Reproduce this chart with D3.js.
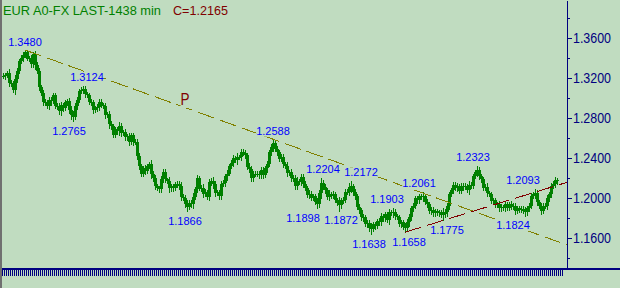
<!DOCTYPE html>
<html><head><meta charset="utf-8">
<script src="https://cdn.jsdelivr.net/npm/d3@7"></script>
<style>html,body{margin:0;padding:0;background:#C0DCC0;} svg{display:block;}</style>
</head><body><svg id="c" width="620" height="288"></svg>
<script>
// ---- data ----
const title = "EUR A0-FX LAST-1438 min";
const lastLabel = "C=1.2165";
const closes = [
1.3220,1.3225,1.3250,1.3155,1.3145,1.3080,1.3190,1.3270,1.3375,1.3400,
1.3430,1.3460,1.3395,1.3400,1.3335,1.3435,1.3330,1.3275,1.3105,1.3050,
1.2955,1.2960,1.2915,1.2975,1.2970,1.3025,1.2915,1.2920,1.2865,1.2925,
1.2900,1.2955,1.2970,1.2880,1.2830,1.2810,1.2920,1.2975,1.3070,1.3080,
1.3090,1.3040,1.3030,1.2960,1.2955,1.2875,1.2900,1.2905,1.2960,1.2930,
1.2915,1.2830,1.2835,1.2735,1.2720,1.2630,1.2685,1.2665,1.2720,1.2645,
1.2660,1.2605,1.2615,1.2560,1.2625,1.2560,1.2560,1.2415,1.2320,1.2240,
1.2295,1.2270,1.2315,1.2340,1.2240,1.2200,1.2115,1.2095,1.2090,1.2185,
1.2260,1.2185,1.2170,1.2095,1.2115,1.2100,1.2135,1.2145,1.2120,1.2010,
1.2000,1.1940,1.1910,1.1950,1.1935,1.2010,1.2090,1.2195,1.2100,1.2100,
1.2045,1.2060,1.2010,1.2155,1.2170,1.2140,1.2050,1.2055,1.2015,1.2140,
1.2150,1.2215,1.2245,1.2320,1.2350,1.2395,1.2380,1.2410,1.2405,1.2460,
1.2450,1.2425,1.2310,1.2290,1.2195,1.2240,1.2240,1.2245,1.2225,1.2280,
1.2230,1.2295,1.2335,1.2460,1.2510,1.2550,1.2490,1.2455,1.2390,1.2410,
1.2335,1.2320,1.2250,1.2255,1.2195,1.2200,1.2120,1.2170,1.2155,1.2210,
1.2140,1.2105,1.2030,1.2045,1.2005,1.2015,1.1960,1.1940,1.2050,1.2150,
1.2110,1.2075,1.2010,1.2040,1.2025,1.2040,1.1980,1.1950,1.1930,1.1975,
1.1985,1.2060,1.2065,1.2110,1.2120,1.2055,1.2020,1.1910,1.1875,1.1805,
1.1805,1.1740,1.1745,1.1700,1.1690,1.1735,1.1715,1.1770,1.1755,1.1820,
1.1795,1.1835,1.1780,1.1855,1.1850,1.1860,1.1815,1.1805,1.1740,1.1755,
1.1710,1.1700,1.1760,1.1805,1.1900,1.1925,1.2000,1.1975,1.2015,1.2010,
1.2020,1.1960,1.1935,1.1865,1.1885,1.1845,1.1865,1.1845,1.1855,1.1830,
1.1840,1.1860,1.1915,1.2040,1.2075,1.2130,1.2100,1.2125,1.2070,1.2125,
1.2110,1.2125,1.2075,1.2130,1.2125,1.2215,1.2260,1.2280,1.2220,1.2185,
1.2105,1.2110,1.2050,1.2035,1.1970,1.1975,1.1930,1.1940,1.1895,1.1910,
1.1895,1.1935,1.1900,1.1940,1.1915,1.1925,1.1870,1.1895,1.1885,1.1890,
1.1870,1.1860,1.1895,1.1925,1.2025,1.2040,1.2050,1.1960,1.1925,1.1870,
1.1925,1.1925,1.1995,1.2040,1.2125,1.2140,1.2180,1.2165
];
// wick length beyond the body, in pips
const wicks = [
25,30,20,35,30,25,40,30,20,25,
30,20,15,20,30,25,35,30,25,20,
30,25,20,30,35,25,20,30,25,35,
30,20,25,30,35,45,25,30,20,25,
34,30,20,25,30,25,20,35,30,25,
20,30,25,35,30,20,25,30,35,25,
20,30,25,35,20,30,25,30,35,25,
20,30,25,20,35,30,25,20,30,35,
25,30,20,35,25,30,20,25,30,35,
25,30,44,25,30,35,20,30,25,30,
35,25,20,30,25,35,30,20,25,30,
25,30,35,20,25,30,25,35,20,30,
25,30,20,35,25,30,25,20,30,25,
30,25,35,20,30,38,25,30,20,25,
30,25,35,20,30,25,30,35,20,25,
30,25,20,35,30,25,20,42,30,54,
25,30,20,35,25,30,20,25,58,30,
25,30,20,35,52,25,30,20,25,30,
35,25,30,30,52,25,30,20,25,30,
25,30,20,35,25,43,30,20,25,30,
25,42,30,35,25,30,20,25,30,25,
41,25,30,20,25,30,25,20,30,25,
55,30,35,25,20,30,25,30,20,25,
30,25,20,35,25,30,20,43,30,25,
30,25,35,20,25,30,25,20,30,25,
20,30,25,20,30,25,30,20,25,30,
25,36,30,25,30,25,43,30,25,30,
25,30,35,25,30,25,30,20
];
// [bar index for label, value]
const pivotHighs = [[11,1.3480],[42,1.3124],[135,1.2588],[160,1.2204],[179,1.2172],[192,1.1903],[208,1.2061],[235,1.2323],[260,1.2093]];
const pivotLows  = [[33,1.2765],[91,1.1866],[150,1.1898],[169,1.1872],[183,1.1638],[203,1.1658],[222,1.1775],[255,1.1824]];
const trendP = [[11,1.3480],[135,1.2588]];
const trendR = [[201,1.1658],[220,1.1775]];
const pLabel = [[91,"P"]];
const majorTicks = [1.36,1.32,1.28,1.24,1.20,1.16];
const minorTicks = [1.38,1.34,1.30,1.26,1.22,1.18,1.14];
const nSlots = 281;

// ---- drawing ----
const W=620,H=288,BG="#C0DCC0",NAVY="#000080",GREEN="#008000",FONT="'Liberation Sans', Arial, sans-serif";
const svg=d3.select("#c");
svg.append("rect").attr("width",W).attr("height",H).attr("fill",BG);
svg.append("rect").attr("x",0).attr("y",0).attr("width",2).attr("height",H).attr("fill","#707070");

const x=d3.scaleLinear().domain([0,1]).range([3,5]);
const y=d3.scaleLinear().domain([1.13,1.398]).range([268,0]);
const AX=567;

const bars=closes.map((c,i)=>{
  const o=i===0?c:closes[i-1];
  const w=wicks[i]/10000;
  return {i,o,c,h:Math.max(o,c)+w,l:Math.min(o,c)-w};
});
const gBars=svg.append("g").attr("shape-rendering","crispEdges");
bars.forEach(b=>{
  const cx=Math.round(x(b.i));
  const top=Math.round(y(Math.max(b.o,b.c))), bot=Math.round(y(Math.min(b.o,b.c)));
  gBars.append("line").attr("x1",cx+0.5).attr("x2",cx+0.5)
    .attr("y1",Math.round(y(b.h))).attr("y2",Math.round(y(b.l))+1)
    .attr("stroke",GREEN).attr("stroke-width",1);
  gBars.append("rect").attr("x",cx-1).attr("y",top)
    .attr("width",3).attr("height",Math.max(bot-top,1)).attr("fill",GREEN);
});

function trend(pts,color){
  const [[i0,v0],[i1,v1]]=pts;
  const slope=(v1-v0)/(i1-i0);
  const iEnd=x.invert(AX);
  svg.append("line").attr("x1",x(i0)).attr("y1",y(v0))
    .attr("x2",AX).attr("y2",y(v0+slope*(iEnd-i0)))
    .attr("stroke",color).attr("stroke-width",1).attr("stroke-dasharray","17,6")
    .attr("shape-rendering","crispEdges");
}
trend(trendP,"#808000");
trend(trendR,"#800000");

function label(txt,cx,by,size,color,len){
  const g=svg.append("g");
  const t=g.append("text").attr("x",cx).attr("y",by).attr("text-anchor","middle")
    .attr("font-family",FONT).attr("font-size",size).attr("fill",color).text(txt);
  if(len) t.attr("textLength",len).attr("lengthAdjust","spacingAndGlyphs");
  const bb=t.node().getBBox();
  g.insert("rect","text").attr("x",bb.x).attr("y",bb.y+1).attr("width",bb.width).attr("height",bb.height-1).attr("fill",BG);
}
pivotHighs.forEach(([i,v])=>label(v.toFixed(4),x(i),y(v)-4.5,11,"#0000FF"));
pivotLows.forEach(([i,v])=>label(v.toFixed(4),x(i),y(v)+13.5,11,"#0000FF"));
pLabel.forEach(([i,t])=>label(t,x(i),105,16,"#800000",9));

// axes
const axMajor=d3.axisRight(y).tickValues(majorTicks).tickSize(5).tickSizeOuter(0).tickPadding(1).tickFormat(d3.format(".4f"));
const gA=svg.append("g").attr("transform",`translate(${AX},0)`).call(axMajor);
gA.selectAll("path,line").attr("stroke",NAVY).attr("shape-rendering","crispEdges");
gA.selectAll("text").attr("fill",NAVY).attr("font-family",FONT).attr("font-size",14)
  .attr("textLength",38).attr("lengthAdjust","spacingAndGlyphs");
const axMinor=d3.axisRight(y).tickValues(minorTicks).tickSize(3).tickFormat("");
const gM=svg.append("g").attr("transform",`translate(${AX},0)`).call(axMinor);
gM.select(".domain").remove();
gM.selectAll("line").attr("stroke",NAVY).attr("shape-rendering","crispEdges");

svg.append("rect").attr("x",2).attr("y",268).attr("width",W-2).attr("height",2).attr("fill",NAVY);
const gT=svg.append("g").attr("shape-rendering","crispEdges");
d3.range(nSlots).forEach(i=>{
  gT.append("line").attr("x1",x(i)-0.5).attr("x2",x(i)-0.5).attr("y1",270).attr("y2",276)
    .attr("stroke",NAVY).attr("stroke-width",1);
});

// title
svg.append("text").attr("x",3).attr("y",15).attr("font-family",FONT).attr("font-size",13)
  .attr("fill",GREEN).attr("textLength",158).attr("lengthAdjust","spacingAndGlyphs").text(title);
svg.append("text").attr("x",173).attr("y",15).attr("font-family",FONT).attr("font-size",13)
  .attr("fill","#800000").attr("textLength",55).attr("lengthAdjust","spacingAndGlyphs").text(lastLabel);
</script></body></html>
